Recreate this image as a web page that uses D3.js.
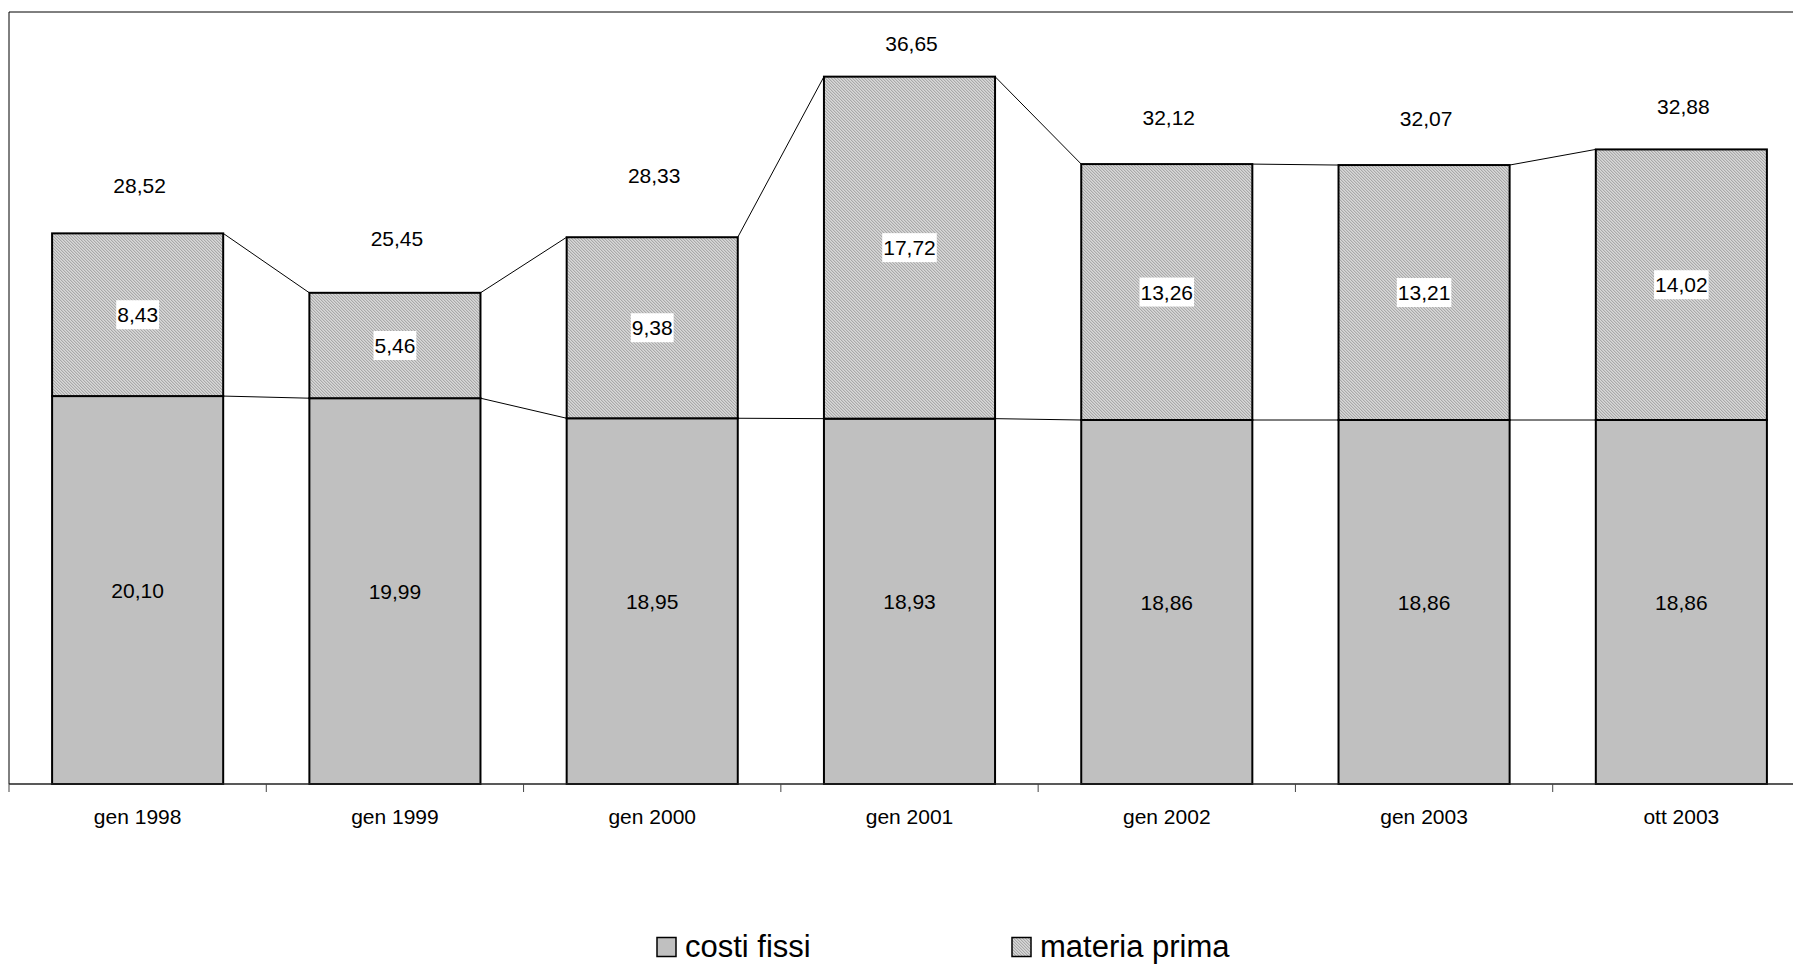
<!DOCTYPE html>
<html>
<head>
<meta charset="utf-8">
<script src="https://cdn.jsdelivr.net/npm/d3@7/dist/d3.min.js"></script>
<style>
  html, body { margin: 0; padding: 0; background: #fff; }
  svg { display: block; font-family: "Liberation Sans", Arial, sans-serif; }
</style>
</head>
<body>
<svg id="chart" width="1793" height="965"></svg>
<script>
// Periods on the category axis
const periods = ["gen 1998", "gen 1999", "gen 2000", "gen 2001", "gen 2002", "gen 2003", "ott 2003"];
// Stacked components
const costiFissi   = [20.10, 19.99, 18.95, 18.93, 18.86, 18.86, 18.86];
const materiaPrima = [8.43, 5.46, 9.38, 17.72, 13.26, 13.21, 14.02];
// Totals shown above each column
const totali       = [28.52, 25.45, 28.33, 36.65, 32.12, 32.07, 32.88];
const seriesNames  = ["costi fissi", "materia prima"];

// Vertical lift (px) of each total label above its column
const totalLabelLift = [48, 54, 62, 33, 47, 47, 43];

const fmt = v => d3.format(".2f")(v).replace(".", ",");

const svg = d3.select("#chart");
const W = 1793, H = 965;
const plot = { left: 9, top: 12, right: 1810, bottom: 784 };

const x = d3.scaleBand()
  .domain(periods)
  .range([plot.left, plot.right])
  .paddingInner(0.335)
  .paddingOuter(0.1675);

const y = d3.scaleLinear().domain([0, 40]).range([plot.bottom, plot.top]);

// Fine stipple fill for "materia prima"
const defs = svg.append("defs");
const pat = defs.append("pattern")
  .attr("id", "dots").attr("width", 3).attr("height", 3)
  .attr("patternUnits", "userSpaceOnUse");
pat.append("rect").attr("width", 3).attr("height", 3).attr("fill", "#c8c8c8");
[[0, 0], [1, 1], [2, 2]].forEach(([px, py]) =>
  pat.append("rect").attr("x", px).attr("y", py).attr("width", 1).attr("height", 1).attr("fill", "#a9a9a9"));
[[2, 0], [0, 1], [1, 2]].forEach(([px, py]) =>
  pat.append("rect").attr("x", px).attr("y", py).attr("width", 1).attr("height", 1).attr("fill", "#d8d8d8"));

// Plot area frame (top and left edges)
svg.append("path")
  .attr("d", `M${plot.left},${plot.bottom} V${plot.top} H${W}`)
  .attr("fill", "none").attr("stroke", "#000").attr("stroke-width", 1);

// Stack data
const rows = periods.map((p, i) => ({ period: p, "costi fissi": costiFissi[i], "materia prima": materiaPrima[i] }));
const stack = d3.stack().keys(seriesNames)(rows);
const fills = { "costi fissi": "#c0c0c0", "materia prima": "url(#dots)" };

// Series lines joining neighbouring columns
stack.forEach(layer => {
  for (let i = 0; i < layer.length - 1; i++) {
    svg.append("line")
      .attr("x1", x(periods[i]) + x.bandwidth())
      .attr("y1", y(layer[i][1]))
      .attr("x2", x(periods[i + 1]))
      .attr("y2", y(layer[i + 1][1]))
      .attr("stroke", "#000").attr("stroke-width", 1);
  }
});

// Columns
stack.forEach(layer => {
  svg.append("g").selectAll("rect")
    .data(layer)
    .join("rect")
    .attr("x", d => x(d.data.period))
    .attr("y", d => y(d[1]))
    .attr("width", x.bandwidth())
    .attr("height", d => y(d[0]) - y(d[1]))
    .attr("fill", fills[layer.key])
    .attr("stroke", "#000")
    .attr("stroke-width", 2);
});

// X axis
const xAxis = svg.append("g").attr("transform", `translate(0,${plot.bottom})`);
xAxis.append("line")
  .attr("x1", plot.left).attr("x2", W).attr("y1", 0).attr("y2", 0)
  .attr("stroke", "#222").attr("stroke-width", 1.5);
const boundaries = d3.range(periods.length + 1).map(i => plot.left + i * x.step());
xAxis.selectAll("line.tick")
  .data(boundaries)
  .join("line").attr("class", "tick")
  .attr("x1", d => d).attr("x2", d => d)
  .attr("y1", 0).attr("y2", 8)
  .attr("stroke", "#444").attr("stroke-width", 1);
xAxis.selectAll("text")
  .data(periods)
  .join("text")
  .attr("x", d => x(d) + x.bandwidth() / 2)
  .attr("y", 40)
  .attr("text-anchor", "middle")
  .attr("font-size", 21)
  .attr("fill", "#000")
  .text(d => d);

// Segment value labels; the upper segment's labels sit on white boxes
stack.forEach(layer => {
  const boxed = layer.key === "materia prima";
  layer.forEach(d => {
    const cx = x(d.data.period) + x.bandwidth() / 2;
    const cy = (y(d[0]) + y(d[1])) / 2;
    const g = svg.append("g");
    const t = g.append("text")
      .attr("x", cx).attr("y", cy)
      .attr("text-anchor", "middle")
      .attr("dominant-baseline", "central")
      .attr("font-size", 21)
      .attr("fill", "#000")
      .text(fmt(d[1] - d[0]));
    if (boxed) {
      const bb = t.node().getBBox();
      g.insert("rect", "text")
        .attr("x", bb.x - 1).attr("y", cy - 14.5)
        .attr("width", bb.width + 2).attr("height", 29)
        .attr("fill", "#fff");
    }
  });
});

// Totals above columns
svg.append("g").selectAll("text")
  .data(totali)
  .join("text")
  .attr("x", (d, i) => x(periods[i]) + x.bandwidth() / 2 + 2)
  .attr("y", (d, i) => y(d) - totalLabelLift[i])
  .attr("text-anchor", "middle")
  .attr("dominant-baseline", "central")
  .attr("font-size", 21)
  .attr("fill", "#000")
  .text(d => fmt(d));

// Legend
const legendX = [657, 1012];
const legend = svg.append("g");
seriesNames.forEach((name, i) => {
  legend.append("rect")
    .attr("x", legendX[i]).attr("y", 937.5)
    .attr("width", 19).attr("height", 19)
    .attr("fill", fills[name])
    .attr("stroke", "#000").attr("stroke-width", 1.5);
  legend.append("text")
    .attr("x", legendX[i] + 28).attr("y", 957)
    .attr("font-size", 31)
    .attr("fill", "#000")
    .text(name);
});
</script>
</body>
</html>
